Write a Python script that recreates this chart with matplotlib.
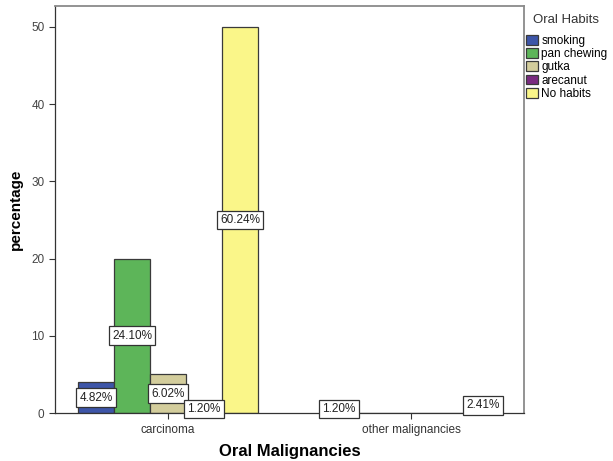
import matplotlib
matplotlib.use("Agg")
import matplotlib.pyplot as plt
import numpy as np

plt.rcParams['font.family'] = ['Liberation Sans', 'DejaVu Sans']

# Case counts per malignancy group and oral habit
categories = ["carcinoma", "other malignancies"]
habits = ["smoking", "pan chewing", "gutka", "arecanut", "No habits"]
counts = {
    "smoking":     [4, 1],
    "pan chewing": [20, 0],
    "gutka":       [5, 0],
    "arecanut":    [1, 0],
    "No habits":   [50, 2],
}
colors = {
    "smoking":     "#3D55A8",
    "pan chewing": "#5DB559",
    "gutka":       "#D3CD9C",
    "arecanut":    "#7A2A80",
    "No habits":   "#FAF689",
}
yticks = [0, 10, 20, 30, 40, 50]

total = sum(sum(v) for v in counts.values())

W, H = 613, 461
fig = plt.figure(figsize=(W / 100, H / 100), dpi=100)
ax = fig.add_axes([55 / W, 1 - 413 / H, (524 - 55) / W, (413 - 6) / H])

x = np.arange(len(categories))
width = 0.148
n = len(habits)
for i, h in enumerate(habits):
    offs = (i - (n - 1) / 2) * width
    vals = counts[h]
    ax.bar(x + offs, vals, width=width, color=colors[h], edgecolor="#3a3a3a",
           linewidth=0.9, label=h, zorder=2)
    for xi, v in zip(x, vals):
        if v > 0:
            ax.text(xi + offs, v / 2, f"{100 * v / total:.2f}%", ha="center",
                    va="center", fontsize=8.5, color="#222222", zorder=5,
                    bbox=dict(boxstyle="square,pad=0.28", fc="white",
                              ec="#333333", lw=0.9))

ax.set_xlim(-0.465, 1.465)
ax.set_ylim(0, 52.7)
ax.set_yticks(yticks)
ax.set_xticks(x)
ax.set_xticklabels(categories)
ax.tick_params(axis="y", labelsize=8.5, colors="#333333", length=4, width=0.8,
               labelcolor="#444444")
ax.tick_params(axis="x", labelsize=8.5, length=4, width=0.8, colors="#333333",
               labelcolor="#333333", pad=4)

for side in ["left", "bottom"]:
    ax.spines[side].set_color("#333333")
    ax.spines[side].set_linewidth(0.9)
for side in ["top", "right"]:
    ax.spines[side].set_color("#8a8a8a")
    ax.spines[side].set_linewidth(1.3)

ax.set_ylabel("percentage", fontsize=11, fontweight="bold", labelpad=6)
ax.set_xlabel("Oral Malignancies", fontsize=12, fontweight="bold", va="center")
ax.xaxis.set_label_coords(0.5, -(451 - 413) / (413 - 6))

# Legend placed to the right of the plotting area
fig.text(533 / W, 1 - 20 / H, "Oral Habits", fontsize=9.5, color="#333333",
         ha="left", va="center")
fig.legend(*ax.get_legend_handles_labels(), loc="upper left",
           bbox_to_anchor=(526 / W, 1 - 35 / H), frameon=False,
           fontsize=8.5, handlelength=1.0, handleheight=0.9,
           handletextpad=0.3, labelspacing=0.1, borderpad=0,
           borderaxespad=0)

fig.savefig("out.png", dpi=100)
